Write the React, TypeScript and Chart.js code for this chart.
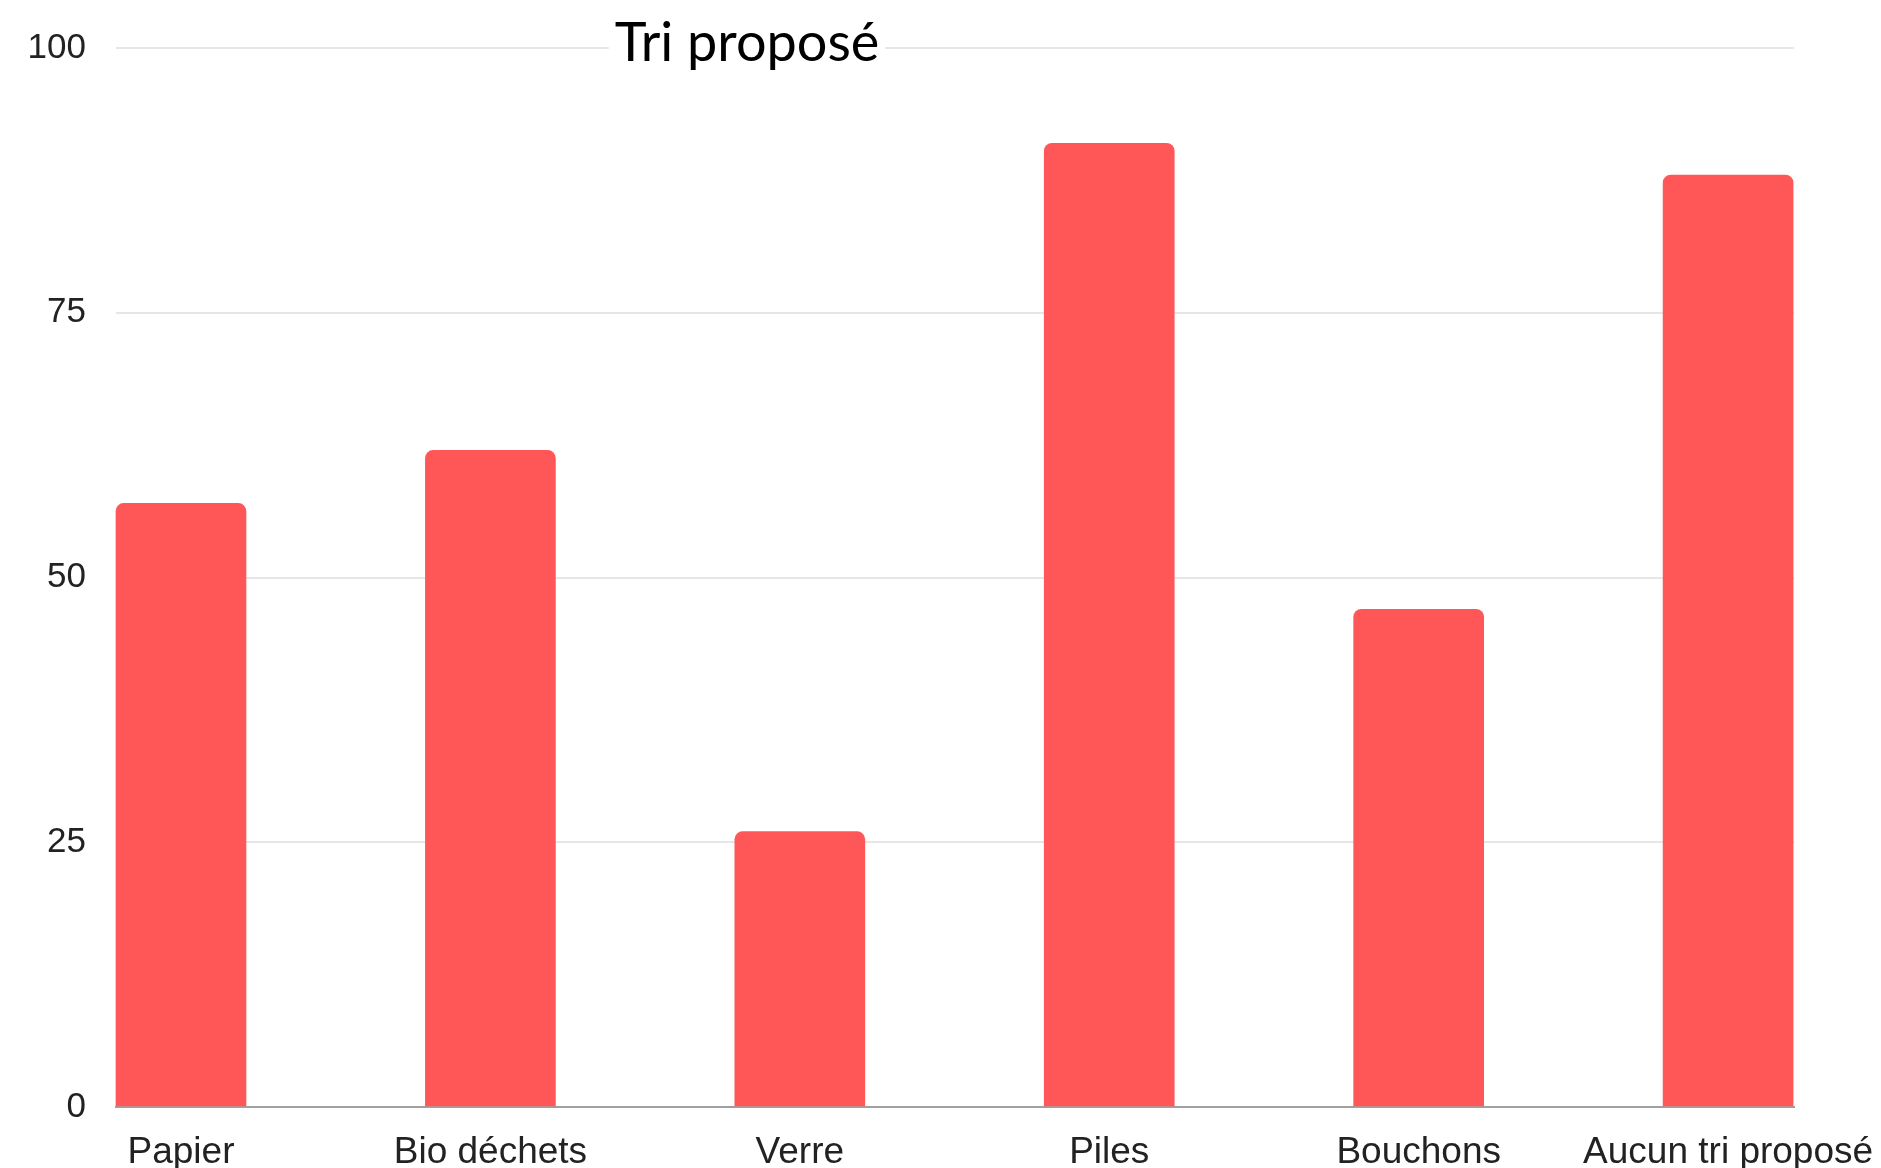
import React, { useEffect, useRef } from "react";
import { Chart, registerables } from "chart.js";

Chart.register(...registerables);

const categories = ["Papier", "Bio déchets", "Verre", "Piles", "Bouchons", "Aucun tri proposé"];
const values = [57, 62, 26, 91, 47, 88];
const yTicks = [0, 25, 50, 75, 100];
const titleText = "Tri proposé";

const titlePlugin = {
  id: "customTitle",
  afterDraw(chart: any) {
    const ctx = chart.ctx;
    ctx.save();
    ctx.font = "54px Lato";
    const w = ctx.measureText(titleText).width;
    const cx = 747;
    const cy = 44;
    ctx.fillStyle = "#ffffff";
    ctx.fillRect(cx - w / 2 - 6, cy - 6, w + 12, 12);
    ctx.fillStyle = "#000000";
    ctx.textAlign = "center";
    ctx.textBaseline = "middle";
    ctx.fillText(titleText, cx, cy);
    ctx.restore();
  },
};

export default function App() {
  const ref = useRef<HTMLCanvasElement | null>(null);
  useEffect(() => {
    if (!ref.current) return;
    const chart = new Chart(ref.current, {
      type: "bar",
      data: {
        datasets: [
          {
            data: values.map((v, i) => ({ x: i, y: v })),
            backgroundColor: "#FF5757",
            barThickness: 130,
            borderRadius: { topLeft: 8, topRight: 8, bottomLeft: 0, bottomRight: 0 },
            borderSkipped: "start",
            clip: false,
          },
        ],
      },
      options: {
        animation: false,
        responsive: false,
        maintainAspectRatio: false,
        layout: { padding: { top: 48, right: 87, left: 0, bottom: 0 } },
        plugins: { legend: { display: false }, tooltip: { enabled: false }, title: { display: false } },
        scales: {
          x: {
            type: "linear",
            offset: false,
            min: -0.21,
            max: 5.213,
            grid: { display: false, offset: false },
            border: { display: true, color: "#a0a0a0", width: 2 },
            afterFit: (s: any) => {
              s.height = 61;
              s.paddingLeft = 0;
              s.paddingRight = 0;
            },
            ticks: {
              stepSize: 1,
              includeBounds: false,
              autoSkip: false,
              maxRotation: 0,
              minRotation: 0,
              padding: 16,
              color: "#222222",
              font: { family: "Liberation Sans, Arial, sans-serif", size: 37 },
              callback: (v: any) => {
                const i = Math.round(Number(v));
                return Math.abs(Number(v) - i) < 1e-6 && categories[i] ? categories[i] : "";
              },
            },
          },
          y: {
            min: 0,
            max: 100,
            afterFit: (s: any) => {
              s.width = 116;
              s.paddingTop = 0;
              s.paddingBottom = 0;
            },
            afterBuildTicks: (s: any) => {
              s.ticks = yTicks.map((v) => ({ value: v }));
            },
            grid: {
              drawTicks: false,
              color: (c: any) => (c.tick && c.tick.value === 0 ? "rgba(0,0,0,0)" : "#e6e6e6"),
              lineWidth: 2,
            },
            border: { display: false },
            ticks: {
              padding: 30,
              color: "#222222",
              font: { family: "Liberation Sans, Arial, sans-serif", size: 35 },
            },
          },
        },
      },
      plugins: [titlePlugin],
    } as any);
    return () => chart.destroy();
  }, []);
  return (
    <div style={{ position: "absolute", left: 0, top: 0, width: 1881, height: 1168, background: "#fff" }}>
      <canvas ref={ref} width={1881} height={1168} style={{ width: 1881, height: 1168, display: "block" }} />
    </div>
  );
}
